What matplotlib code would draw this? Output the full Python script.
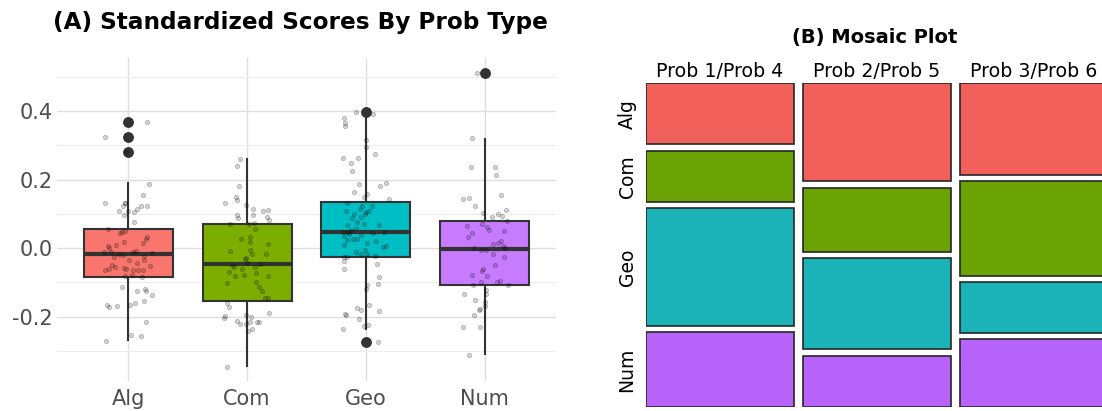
import numpy as np
import matplotlib
matplotlib.use("Agg")
import matplotlib.pyplot as plt
import matplotlib.transforms as mtransforms

plt.rcParams['font.family'] = ['DejaVu Sans']

# ---------------- data ----------------
types = ['Alg', 'Com', 'Geo', 'Num']
box_fill = ['#F8766D', '#7CAE00', '#00BFC4', '#C77CFF']

# box stats: q1, median, q3, lower whisker, upper whisker
q1 = [-0.083, -0.155, -0.026, -0.109]
med = [-0.017, -0.047, 0.048, -0.002]
q3 = [0.055, 0.071, 0.136, 0.080]
whis_lo = [-0.268, -0.345, -0.236, -0.309]
whis_hi = [0.189, 0.259, 0.386, 0.319]
outliers = [[0.368, 0.324, 0.280], [], [0.397, -0.275], [0.512]]

# jittered raw scores (horizontal offset, score)
alg_dx = [0.158, -0.194, -0.020, 0.177, 0.121, -0.194, -0.031, -0.045, -0.025, -0.076,
          0.076, 0.051, 0.110, 0.155, -0.003, -0.039, 0.045, -0.174, -0.056, -0.031,
          -0.073, 0.160, 0.149, -0.174, -0.107, -0.039, 0.121, -0.163, -0.143, -0.205,
          -0.079, 0.062, 0.200, -0.118, -0.042, 0.037, 0.006, 0.076, 0.135, 0.135,
          -0.200, -0.163, -0.115, -0.037, -0.017, 0.042, 0.082, 0.121, 0.180, -0.135,
          0.031, 0.113, -0.025, -0.051, 0.073, 0.141, 0.152, 0.200, 0.129, 0.053,
          0.014, -0.093, -0.180, -0.163, 0.146, 0.025, 0.110, -0.188]
alg_y = [0.369, 0.324, 0.280, 0.188, 0.155, 0.131, 0.131, 0.124, 0.133, 0.108,
         0.113, 0.105, 0.123, 0.123, 0.108, 0.096, 0.077, 0.056, 0.047, 0.049,
         0.044, 0.033, 0.028, 0.005, 0.010, 0.019, 0.015, -0.001, -0.011, -0.011,
         -0.018, -0.008, -0.015, -0.027, -0.020, -0.011, -0.035, -0.044, -0.035, -0.022,
         -0.065, -0.061, -0.056, -0.057, -0.062, -0.064, -0.065, -0.065, -0.051, -0.049,
         -0.078, -0.085, -0.081, -0.114, -0.124, -0.119, -0.125, -0.138, -0.155, -0.160,
         -0.166, -0.169, -0.166, -0.172, -0.217, -0.253, -0.258, -0.271]

com_dx = [-0.060, -0.083, -0.066, -0.094, -0.086, -0.184, -0.010, 0.046, 0.052, 0.131,
          0.179, -0.089, -0.075, 0.167, 0.184, 0.060, 0.018, -0.145, 0.063, -0.049,
          0.027, 0.024, 0.179, -0.148, 0.027, 0.038, 0.162, -0.010, -0.015, -0.125,
          -0.111, -0.001, 0.063, 0.108, -0.041, -0.150, -0.100, -0.030, 0.072, 0.173,
          -0.165, 0.073, 0.100, 0.125, 0.150, 0.179, -0.173, -0.150, 0.184, -0.187,
          -0.198, -0.007, 0.035, -0.086, -0.063, -0.013, 0.024, 0.083, 0.103, 0.044,
          0.007, -0.167]
com_y = [0.259, 0.240, 0.181, 0.148, 0.141, 0.132, 0.125, 0.115, 0.096, 0.108,
         0.110, 0.098, 0.088, 0.090, 0.082, 0.073, 0.069, 0.069, 0.055, 0.026,
         0.031, 0.018, 0.011, -0.008, -0.006, -0.017, -0.018, -0.028, -0.031, -0.050,
         -0.054, -0.043, -0.054, -0.045, -0.062, -0.071, -0.082, -0.079, -0.074, -0.082,
         -0.102, -0.099, -0.115, -0.124, -0.145, -0.145, -0.161, -0.172, -0.190, -0.198,
         -0.204, -0.196, -0.201, -0.212, -0.222, -0.223, -0.217, -0.217, -0.217, -0.235,
         -0.242, -0.347]

geo_dx = [-0.084, 0.056, -0.188, -0.177, -0.180, 0.000, 0.003, 0.079, -0.191, -0.068,
          -0.124, -0.121, -0.059, 0.118, 0.169, -0.096, -0.020, 0.008, 0.191, -0.034,
          0.051, -0.169, -0.104, -0.051, -0.155, 0.003, 0.023, -0.011, -0.039, -0.121,
          -0.076, -0.017, -0.158, 0.107, -0.084, -0.124, -0.191, -0.149, -0.141, 0.056,
          0.149, -0.042, -0.183, -0.107, -0.076, -0.155, 0.084, 0.008, -0.188, 0.141,
          0.172, -0.084, -0.042, 0.008, -0.011, -0.183, -0.155, 0.076, -0.188, 0.096,
          -0.186, 0.112, 0.098, 0.006, -0.003, 0.028, -0.076, -0.045, -0.177, -0.169,
          0.110, -0.059, -0.017, 0.020, -0.194, 0.101]
geo_y = [0.398, 0.392, 0.379, 0.366, 0.356, 0.317, 0.294, 0.275, 0.264, 0.264,
         0.247, 0.224, 0.186, 0.181, 0.190, 0.163, 0.150, 0.158, 0.142, 0.124,
         0.122, 0.108, 0.100, 0.113, 0.133, 0.104, 0.107, 0.101, 0.092, 0.088,
         0.075, 0.070, 0.068, 0.066, 0.060, 0.053, 0.048, 0.046, 0.040, 0.045,
         0.047, 0.039, 0.034, 0.026, 0.026, 0.023, 0.022, 0.016, 0.008, 0.003,
         0.005, -0.010, -0.016, -0.016, -0.006, -0.025, -0.025, -0.023, -0.037, -0.046,
         -0.062, -0.083, -0.105, -0.107, -0.120, -0.166, -0.175, -0.181, -0.192, -0.196,
         -0.183, -0.207, -0.226, -0.225, -0.237, -0.275]

num_dx = [-0.062, -0.110, -0.118, 0.084, 0.098, -0.183, -0.129, 0.138, -0.082, 0.183,
          -0.014, 0.059, 0.110, 0.149, 0.188, -0.152, -0.023, 0.023, 0.034, 0.166,
          -0.104, -0.138, 0.073, 0.110, 0.135, 0.152, -0.090, -0.028, 0.011, 0.169,
          0.068, 0.163, 0.087, -0.107, -0.017, -0.025, 0.020, -0.034, 0.104, 0.127,
          0.194, -0.101, 0.014, -0.174, 0.011, -0.079, 0.006, 0.003, -0.042, -0.048,
          -0.093, -0.186, -0.037, -0.135]
num_y = [0.512, 0.321, 0.238, 0.238, 0.212, 0.142, 0.146, 0.155, 0.123, 0.112,
         0.103, 0.091, 0.099, 0.095, 0.079, 0.064, 0.069, 0.061, 0.053, 0.050,
         0.043, 0.032, 0.013, 0.015, 0.021, 0.005, 0.000, -0.006, -0.006, 0.001,
         -0.018, -0.025, -0.049, -0.078, -0.062, -0.066, -0.081, -0.098, -0.100, -0.095,
         -0.109, -0.109, -0.122, -0.134, -0.135, -0.151, -0.156, -0.170, -0.178, -0.181,
         -0.196, -0.231, -0.230, -0.311]

jitter_dx = [alg_dx, com_dx, geo_dx, num_dx]
jitter_y = [alg_y, com_y, geo_y, num_y]

# mosaic: share (%) of each problem type within each problem pair
pairs = ['Prob 1/Prob 4', 'Prob 2/Prob 5', 'Prob 3/Prob 6']
mosaic_share = {
    'Alg': [20.1, 32.2, 30.1],
    'Com': [16.8, 21.1, 31.1],
    'Geo': [38.7, 29.9, 16.6],
    'Num': [24.5, 16.8, 22.2],
}
mosaic_fill = ['#F2605C', '#6BA305', '#1BB3B8', '#B864FB']

# ---------------- figure ----------------
fig = plt.figure(figsize=(11.02, 4.11), dpi=100)
W, H = 1102, 411

# ----- Panel A: box plots -----
ax1 = fig.add_axes([57 / W, 1 - 381 / H, 499 / W, 323 / H])
positions = np.arange(1, len(types) + 1)

for i, t in enumerate(types):
    ax1.scatter(positions[i] + np.array(jitter_dx[i]), jitter_y[i], s=10,
                facecolor=(0, 0, 0, 0.18), edgecolor=(0, 0, 0, 0.25), linewidth=0.5, zorder=4)

stats = []
for i, t in enumerate(types):
    stats.append(dict(label=t, med=med[i], q1=q1[i], q3=q3[i],
                      whislo=whis_lo[i], whishi=whis_hi[i], fliers=outliers[i]))
bp = ax1.bxp(stats, positions=positions, widths=0.75, patch_artist=True,
             showcaps=False, zorder=3,
             boxprops=dict(edgecolor='#333333', linewidth=1.5),
             whiskerprops=dict(color='#333333', linewidth=1.5),
             medianprops=dict(color='#333333', linewidth=3.0),
             flierprops=dict(marker='o', markerfacecolor='#333333', markeredgecolor='#333333',
                             markersize=6.8))
for patch, c in zip(bp['boxes'], box_fill):
    patch.set_facecolor(c)

ax1.set_xlim(0.4, 4.6)
ax1.set_ylim(-0.388, 0.555)
ax1.set_xticks(positions)
ax1.set_xticklabels(types)
ax1.set_yticks([-0.2, 0.0, 0.2, 0.4])
ax1.set_yticklabels(['-0.2', '0.0', '0.2', '0.4'])
ax1.set_yticks([-0.3, -0.1, 0.1, 0.3, 0.5], minor=True)
ax1.grid(True, which='major', color='#DEDEDE', linewidth=1.0)
ax1.grid(True, which='minor', axis='y', color='#EBEBEB', linewidth=0.7)
ax1.set_axisbelow(True)
for s in ax1.spines.values():
    s.set_visible(False)
ax1.tick_params(axis='both', which='both', length=0, labelsize=15, colors='#4D4D4D')
ax1.tick_params(axis='x', pad=6)
ax1.tick_params(axis='y', pad=3)

fig.text(300 / W, 1 - 22 / H, '(A) Standardized Scores By Prob Type',
         ha='center', va='center', fontsize=16.7, fontweight='bold', color='black')

# ----- Panel B: mosaic -----
ax2 = fig.add_axes([646 / W, 1 - 406.7 / H, 462 / W, 323.4 / H])
gx = 0.061   # gap between columns
gy = 0.02    # gap between rows
n_rows = len(types)
col_x = np.arange(len(pairs)) * (1 + gx) + 0.5

row_centers_first = []
for j in range(len(pairs)):
    col_vals = np.array([mosaic_share[t][j] for t in types])
    heights = col_vals / col_vals.sum() * (1 - gy * (n_rows - 1))
    bottom = 0.0
    for i, t in enumerate(types):
        ax2.bar(col_x[j], heights[i], width=1.0, bottom=bottom, color=mosaic_fill[i],
                edgecolor='#262626', linewidth=1.2)
        if j == 0:
            row_centers_first.append(bottom + heights[i] / 2)
        bottom += heights[i] + gy

ax2.set_xlim(0, len(pairs) + (len(pairs) - 1) * gx)
ax2.set_ylim(1.0, 0.0)
ax2.axis('off')

trans_x = mtransforms.blended_transform_factory(ax2.transData, ax2.transAxes)
for j, p in enumerate(pairs):
    ax2.text(col_x[j], 1.035, p, transform=trans_x, ha='center', va='center',
             fontsize=13.7, color='black')
trans_y = mtransforms.blended_transform_factory(ax2.transAxes, ax2.transData)
for i, t in enumerate(types):
    ax2.text(-0.041, row_centers_first[i], t, transform=trans_y, ha='center', va='center',
             rotation=90, fontsize=13.5, color='black')

fig.text(875 / W, 1 - 38 / H, '(B) Mosaic Plot', ha='center', va='center',
         fontsize=14, fontweight='bold', color='black')

fig.savefig('out.png', dpi=100, facecolor='white')
